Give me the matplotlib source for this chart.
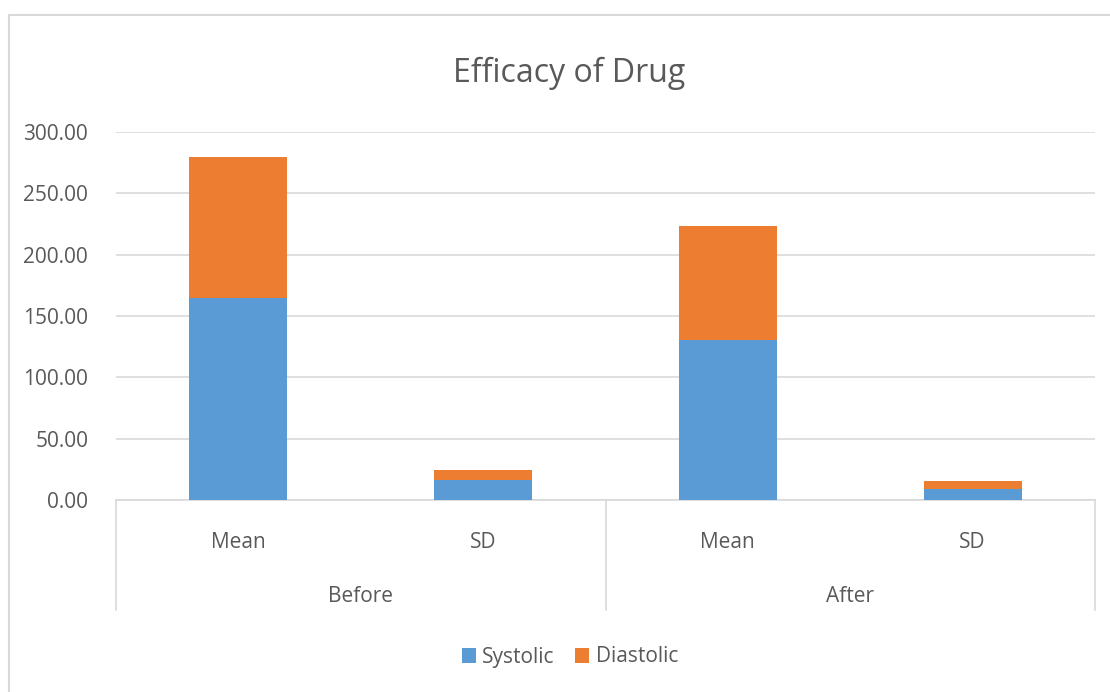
import numpy as np
import matplotlib.pyplot as plt
from matplotlib.lines import Line2D

# Datos
grupos = ["Before", "After"]
estadisticos = ["Mean", "SD", "Mean", "SD"]
sistolica = [164.6, 16.7, 130.5, 8.9]
diastolica = [115.2, 7.9, 93.2, 6.7]

azul = "#5B9BD5"
naranja = "#ED7D31"
gris_txt = "#595959"
gris_lin = "#D9D9D9"

plt.rcParams['font.family'] = ['Open Sans', 'DejaVu Sans']

W, H = 1110, 692
fig = plt.figure(figsize=(W / 100, H / 100), dpi=100)

# Borde del area del grafico (solo izquierda y arriba quedan a la vista)
fig.lines.append(Line2D([8.5 / W, 8.5 / W, 1], [0, 1 - 15 / H, 1 - 15 / H],
                        transform=fig.transFigure, color=gris_lin, linewidth=1.5))

ax = fig.add_axes([116 / W, 1 - 500 / H, 979 / W, 368 / H])
x = np.arange(len(estadisticos)) + 0.5
ax.bar(x, sistolica, width=0.4, color=azul, label="Systolic", zorder=3)
ax.bar(x, diastolica, width=0.4, bottom=sistolica, color=naranja, label="Diastolic", zorder=3)

ax.set_xlim(0, 4)
ax.set_ylim(0, 300)
ax.set_yticks(np.arange(0, 301, 50))
ax.set_yticklabels([f"{v:.2f}" for v in np.arange(0, 301, 50)], fontsize=15, color=gris_txt)
ax.tick_params(axis='y', length=0, pad=20)
ax.grid(axis='y', color=gris_lin, linewidth=1.2, zorder=0)
ax.set_xticks([])
for s in ['top', 'right', 'left']:
    ax.spines[s].set_visible(False)
ax.spines['bottom'].set_color(gris_lin)
ax.spines['bottom'].set_linewidth(1.2)

# Eje de categorias en dos niveles
tr = ax.get_xaxis_transform()
for xi, lab in zip(x, estadisticos):
    ax.text(xi, -42 / 368, lab, transform=tr, ha='center', va='center', fontsize=15, color=gris_txt)
for i, g in enumerate(grupos):
    ax.text(1 + 2 * i, -97 / 368, g, transform=tr, ha='center', va='center', fontsize=15, color=gris_txt)
for xv in [0, 2, 4]:
    ax.plot([xv, xv], [0, -110 / 368], transform=tr, color=gris_lin, linewidth=1.2, clip_on=False)

fig.text(569 / W, 1 - 73 / H, "Efficacy of Drug", ha='center', va='center', fontsize=23, color=gris_txt)

fig.legend(loc='center', bbox_to_anchor=(570 / W, 1 - 657 / H), ncol=2, frameon=False,
           fontsize=15, handlelength=0.67, handleheight=0.7, handletextpad=0.3,
           columnspacing=1.0, labelcolor=gris_txt)

fig.savefig("out.png", dpi=100)
